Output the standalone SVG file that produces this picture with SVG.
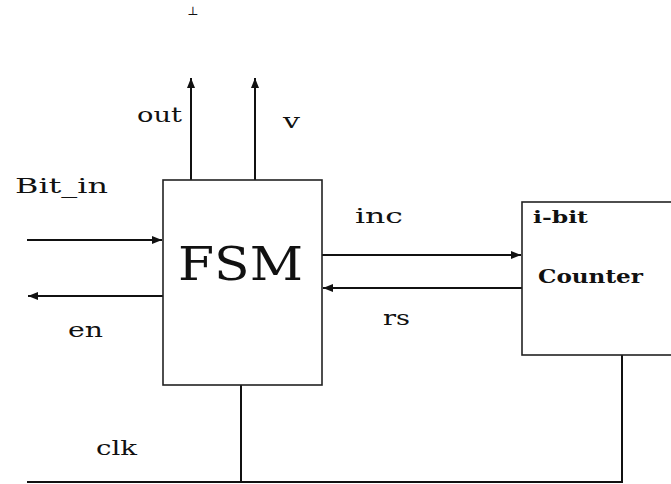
<svg xmlns="http://www.w3.org/2000/svg" width="671" height="484" viewBox="0 0 671 484">
<style>
.ln{stroke:#111;stroke-width:2;fill:none}
.box{stroke:#222;stroke-width:1.6;fill:#fff}
.t{font-family:"DejaVu Serif","Liberation Serif",serif;fill:#111}
.b{font-family:"DejaVu Serif","Liberation Serif",serif;font-weight:bold;fill:#111}
</style>
<defs>
<marker id="ah" viewBox="0 0 10 10" refX="10" refY="5" markerWidth="10" markerHeight="10" markerUnits="userSpaceOnUse" orient="auto">
<path d="M0,1 L10,5 L0,9 z" fill="#111"/>
</marker>
</defs>
<rect width="671" height="484" fill="#fff"/>
<text class="t" x="193" y="15" font-size="12" text-anchor="middle">⊥</text>
<g id="connectors">
<line class="ln" x1="191" y1="180" x2="191" y2="78" marker-end="url(#ah)"/>
<line class="ln" x1="255" y1="180" x2="255" y2="78" marker-end="url(#ah)"/>
<line class="ln" x1="27" y1="240" x2="162" y2="240" marker-end="url(#ah)"/>
<line class="ln" x1="163" y1="296" x2="28" y2="296" marker-end="url(#ah)"/>
<line class="ln" x1="322" y1="255" x2="521" y2="255" marker-end="url(#ah)"/>
<line class="ln" x1="522" y1="288" x2="323" y2="288" marker-end="url(#ah)"/>
<polyline class="ln" points="241,385 241,482"/>
<polyline class="ln" points="27,482 622,482 622,355"/>
</g>
<g id="fsm">
<rect class="box" x="163" y="180" width="159" height="205"/>
<text class="t" x="178" y="280" font-size="46" textLength="125" lengthAdjust="spacingAndGlyphs">FSM</text>
</g>
<g id="counter">
<rect class="box" x="522" y="202" width="160" height="153"/>
<text class="b" x="533" y="223" font-size="16" textLength="55" lengthAdjust="spacingAndGlyphs">i-bit</text>
<text class="b" x="538" y="283" font-size="18" textLength="105" lengthAdjust="spacingAndGlyphs">Counter</text>
</g>
<g id="labels">
<text class="t" x="137" y="122" font-size="21" textLength="45" lengthAdjust="spacingAndGlyphs">out</text>
<text class="t" x="283" y="128" font-size="21" textLength="17" lengthAdjust="spacingAndGlyphs">v</text>
<text class="t" x="15" y="193" font-size="20" textLength="93" lengthAdjust="spacingAndGlyphs">Bit_in</text>
<text class="t" x="68" y="337" font-size="21" textLength="35" lengthAdjust="spacingAndGlyphs">en</text>
<text class="t" x="355" y="223" font-size="21" textLength="48" lengthAdjust="spacingAndGlyphs">inc</text>
<text class="t" x="383" y="325" font-size="21" textLength="27" lengthAdjust="spacingAndGlyphs">rs</text>
<text class="t" x="96" y="455" font-size="21" textLength="41" lengthAdjust="spacingAndGlyphs">clk</text>
</g>
</svg>
